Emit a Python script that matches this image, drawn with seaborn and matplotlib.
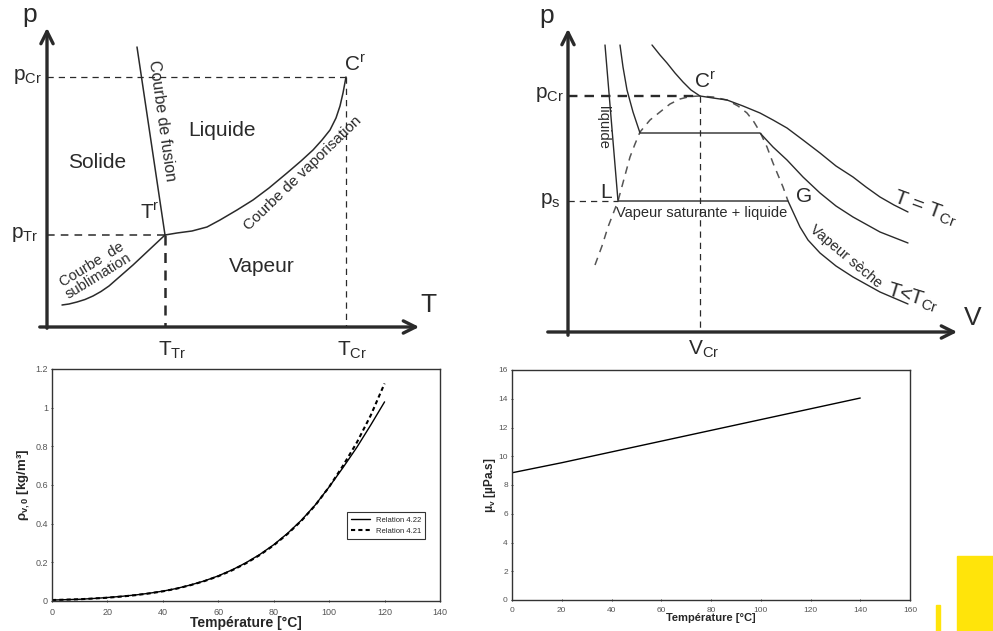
import seaborn as sns
import matplotlib.pyplot as plt
from matplotlib.patches import Rectangle
import numpy as np
import pandas as pd

# --- data for the two measured charts ---
temp_rho = [0, 5, 10, 15, 20, 25, 30, 35, 40, 45, 50, 55, 60, 65, 70, 75, 80, 85, 90, 95, 100, 105, 110, 115, 120]
rho_422 = [0.005, 0.007, 0.009, 0.013, 0.018, 0.024, 0.031, 0.040, 0.051, 0.065, 0.083, 0.104, 0.130,
           0.161, 0.198, 0.241, 0.291, 0.350, 0.418, 0.497, 0.590, 0.690, 0.795, 0.910, 1.030]
rho_421 = [0.005, 0.007, 0.009, 0.013, 0.017, 0.023, 0.030, 0.039, 0.050, 0.064, 0.082, 0.103, 0.128,
           0.159, 0.195, 0.238, 0.288, 0.347, 0.415, 0.495, 0.590, 0.700, 0.820, 0.960, 1.125]
temp_mu = [0, 20, 40, 60, 80, 100, 120, 140]
mu_v = [8.85, 9.55, 10.3, 11.05, 11.8, 12.55, 13.3, 14.05]

# --- schematic p-T diagram (arbitrary units) ---
T_tr, p_tr = 118, 92
T_cr, p_cr = 299, 250
fusion_T = [90, 118]
fusion_p = [280, 92]
vap_T = [118, 130, 145, 160, 173, 190, 206, 222, 240, 254, 266, 275, 283, 289, 293, 296, 299]
vap_p = [92, 94, 96, 100, 107, 117, 127, 139, 154, 166, 177, 187, 197, 209, 221, 234, 250]
sub_T = [15, 22, 30, 38, 46, 54, 62, 70, 78, 86, 94, 102, 110, 118]
sub_p = [22, 23, 25, 27.5, 31, 35.5, 41, 48, 55, 62, 69.5, 77, 84.5, 92]

# --- schematic p-V diagram (arbitrary units) ---
V_cr, pV_cr, p_s = 132, 236, 131
dome_V = [27, 34, 40, 45, 50, 56, 62, 67, 72, 82, 92, 102, 112, 122, 132,
          145, 159, 170, 179, 186, 192, 199, 205, 210, 215, 220]
dome_p = [67, 86, 105, 118, 131, 153, 175, 188, 200, 212, 220, 228, 233, 235.5, 236,
          235, 232, 226, 219, 210, 200, 185, 169, 157, 145, 131]
crit_V = [84, 92, 99, 107, 115, 123, 132, 145, 159, 175, 192, 205, 219, 235, 252, 268, 285, 298, 312, 326, 340]
crit_p = [287, 277, 269, 259, 250, 242, 236, 234, 232, 226, 219, 212, 204, 192, 179, 166, 155, 145, 135, 127, 120]
mid_V = [52, 55, 59, 65, 72, 192, 205, 219, 235, 252, 268, 285, 312, 340]
mid_p = [287, 265, 242, 220, 199, 199, 185, 172, 155, 139, 126, 115, 100, 89]
low_V = [37, 50, 220, 226, 232, 240, 252, 268, 285, 312, 340]
low_p = [287, 131, 131, 118, 105, 92, 79, 66, 55, 40, 28]

sns.set_theme(style='white')
plt.rcParams['font.family'] = ['Liberation Sans', 'DejaVu Sans']
plt.rcParams['mathtext.fontset'] = 'custom'
plt.rcParams['mathtext.rm'] = 'Liberation Sans'
plt.rcParams['mathtext.it'] = 'Liberation Sans:italic'
plt.rcParams['mathtext.bf'] = 'Liberation Sans:bold'

W, H = 993, 631
fig = plt.figure(figsize=(W / 100, H / 100), dpi=100)
ink = '#2a2a2a'


def px_axes(x0, y0, w, h):
    return fig.add_axes([x0 / W, 1 - (y0 + h) / H, w / W, h / H])


def arrow_axes(ax, xend, yend, xstart, ystart):
    ax.annotate('', xy=(0, yend), xytext=(0, ystart),
                arrowprops=dict(arrowstyle='->', lw=2.4, color=ink, mutation_scale=22))
    ax.annotate('', xy=(xend, 0), xytext=(xstart, 0),
                arrowprops=dict(arrowstyle='->', lw=2.4, color=ink, mutation_scale=22))


# ===== Panel 1 : p-T phase diagram =====
ax1 = px_axes(0, 0, 460, 360)
ax1.set_xlim(-47, 413)
ax1.set_ylim(-33, 327)
ax1.axis('off')
arrow_axes(ax1, 375, 302, -10, -4)
ax1.plot(fusion_T, fusion_p, color=ink, lw=1.1)
ax1.plot(vap_T, vap_p, color=ink, lw=1.1)
ax1.plot(sub_T, sub_p, color=ink, lw=1.1)
ax1.plot([0, T_cr], [p_cr, p_cr], color=ink, lw=0.9, ls=(0, (5, 4)))
ax1.plot([T_cr, T_cr], [p_cr, 0], color=ink, lw=0.9, ls=(0, (5, 4)))
ax1.plot([0, T_tr], [p_tr, p_tr], color=ink, lw=1.1, ls=(0, (5, 4)))
ax1.plot([T_tr, T_tr], [p_tr, 0], color=ink, lw=1.8, ls=(0, (4, 3)))
ax1.text(-17, 312, 'p', fontsize=19, ha='center', va='center', color=ink)
ax1.text(381, 22, 'T', fontsize=19, ha='center', va='center', color=ink)
ax1.text(-19, 250, r'p$_{\mathrm{Cr}}$', fontsize=15, ha='center', va='center', color=ink)
ax1.text(-22, 92, r'p$_{\mathrm{Tr}}$', fontsize=15, ha='center', va='center', color=ink)
ax1.text(125, -23, r'T$_{\mathrm{Tr}}$', fontsize=15, ha='center', va='center', color=ink)
ax1.text(305, -23, r'T$_{\mathrm{Cr}}$', fontsize=15, ha='center', va='center', color=ink)
ax1.text(308, 262, r'C$^{\mathrm{r}}$', fontsize=15, ha='center', va='center', color=ink)
ax1.text(103, 114, r'T$^{\mathrm{r}}$', fontsize=15, ha='center', va='center', color=ink)
ax1.text(50, 165, 'Solide', fontsize=15, ha='center', va='center', color=ink)
ax1.text(175, 196, 'Liquide', fontsize=15, ha='center', va='center', color=ink)
ax1.text(215, 60, 'Vapeur', fontsize=15, ha='center', va='center', color=ink)
ax1.text(114.5, 206, 'Courbe de fusion', fontsize=11.5, rotation=-82, ha='center', va='center', color=ink)
ax1.text(256, 154, 'Courbe de vaporisation', fontsize=11, rotation=44, ha='center', va='center', color=ink)
ax1.text(48, 57, 'Courbe  de\nsublimation', fontsize=10.5, rotation=31.5, ha='center', va='center',
         color=ink, linespacing=0.95)

# ===== Panel 2 : p-V diagram =====
ax2 = px_axes(520, 0, 473, 360)
ax2.set_xlim(-48, 425)
ax2.set_ylim(-28, 332)
ax2.axis('off')
arrow_axes(ax2, 392, 306, -23, -6)
ax2.plot(dome_V, dome_p, color='#555555', lw=1.1, ls=(0, (5, 4)))
ax2.plot(crit_V, crit_p, color=ink, lw=1.0)
ax2.plot(mid_V, mid_p, color=ink, lw=1.0)
ax2.plot(low_V, low_p, color=ink, lw=1.0)
ax2.plot([0, V_cr], [pV_cr, pV_cr], color=ink, lw=1.7, ls=(0, (4, 3)))
ax2.plot([V_cr, V_cr], [pV_cr, 0], color=ink, lw=0.9, ls=(0, (5, 4)))
ax2.plot([0, 50], [p_s, p_s], color=ink, lw=0.9, ls=(0, (5, 4)))
ax2.text(-21, 316, 'p', fontsize=19, ha='center', va='center', color=ink)
ax2.text(405, 14, 'V', fontsize=19, ha='center', va='center', color=ink)
ax2.text(-18, 237, r'p$_{\mathrm{Cr}}$', fontsize=15, ha='center', va='center', color=ink)
ax2.text(-18, 132, r'p$_{\mathrm{s}}$', fontsize=15, ha='center', va='center', color=ink)
ax2.text(136, -17, r'V$_{\mathrm{Cr}}$', fontsize=15, ha='center', va='center', color=ink)
ax2.text(137, 250, r'C$^{\mathrm{r}}$', fontsize=15, ha='center', va='center', color=ink)
ax2.text(38, 140, 'L', fontsize=15, ha='center', va='center', color=ink)
ax2.text(236, 135, 'G', fontsize=15, ha='center', va='center', color=ink)
ax2.text(134, 119, 'Vapeur saturante + liquide', fontsize=10.5, ha='center', va='center', color=ink)
ax2.text(35, 205, 'liquide', fontsize=10.5, rotation=-90, ha='center', va='center', color=ink)
ax2.text(278, 76, 'Vapeur sèche', fontsize=10.5, rotation=-40, ha='center', va='center', color=ink)
ax2.text(357, 124, r'T = T$_{\mathrm{Cr}}$', fontsize=15, rotation=-20, ha='center', va='center', color=ink)
ax2.text(345, 34, r'T<T$_{\mathrm{Cr}}$', fontsize=15, rotation=-17, ha='center', va='center', color=ink)

# ===== Panel 3 : vapour density =====
ax3 = px_axes(52, 369, 388, 232)
df_rho = pd.DataFrame({'T': temp_rho, 'r422': rho_422, 'r421': rho_421})
sns.lineplot(data=df_rho, x='T', y='r422', ax=ax3, color='black', lw=1.0, label='Relation 4.22')
sns.lineplot(data=df_rho, x='T', y='r421', ax=ax3, color='black', lw=1.5,
             linestyle=(0, (2, 1.5)), label='Relation 4.21')
ax3.set_xlim(0, 140)
ax3.set_ylim(0, 1.2)
ax3.set_xticks(np.arange(0, 141, 20))
ax3.set_yticks([0, 0.2, 0.4, 0.6, 0.8, 1.0, 1.2])
ax3.set_yticklabels(['0', '0.2', '0.4', '0.6', '0.8', '1', '1.2'])
ax3.set_xlabel('Température [°C]', fontsize=10, fontweight='bold', labelpad=-1)
ax3.set_ylabel(r'$\mathbf{\rho_{v,0}}$ [kg/m³]', fontsize=9.5, fontweight='bold', labelpad=2)
leg = ax3.legend(loc='upper right', bbox_to_anchor=(0.962, 0.382), fontsize=5.5, frameon=True,
                 fancybox=False, borderpad=0.5, handlelength=2.5, labelspacing=0.55,
                 borderaxespad=0)
leg.get_frame().set_edgecolor('black')
leg.get_frame().set_linewidth(0.8)

# ===== Panel 4 : vapour viscosity =====
ax4 = px_axes(512, 370, 398, 230)
df_mu = pd.DataFrame({'T': temp_mu, 'mu': mu_v})
sns.lineplot(data=df_mu, x='T', y='mu', ax=ax4, color='black', lw=1.0)
ax4.set_xlim(0, 160)
ax4.set_ylim(0, 16)
ax4.set_xticks(np.arange(0, 161, 20))
ax4.set_yticks(np.arange(0, 17, 2))
ax4.set_xlabel('Température [°C]', fontsize=8, fontweight='bold', labelpad=-1)
ax4.set_ylabel(r'$\mathbf{\mu_{v}}$ [µPa.s]', fontsize=8.5, fontweight='bold', labelpad=0)

for ax, lab in ((ax3, 6.5), (ax4, 6)):
    for s in ax.spines.values():
        s.set_color('#333333')
        s.set_linewidth(1.0)
    ax.tick_params(axis='both', labelsize=lab, labelcolor='#555555', length=2, width=0.7,
                   color='#444444', direction='inout', bottom=True, left=True)
    ax.tick_params(axis='x', pad=4)
    ax.tick_params(axis='y', pad=2)

# yellow page decoration
fig.patches.append(Rectangle((957 / W, 0), 36 / W, 75 / H, transform=fig.transFigure,
                             color='#ffe40a', zorder=5))
fig.patches.append(Rectangle((936 / W, 0), 4 / W, 26 / H, transform=fig.transFigure,
                             color='#ffe40a', zorder=5))

fig.savefig('out.png', dpi=100)
